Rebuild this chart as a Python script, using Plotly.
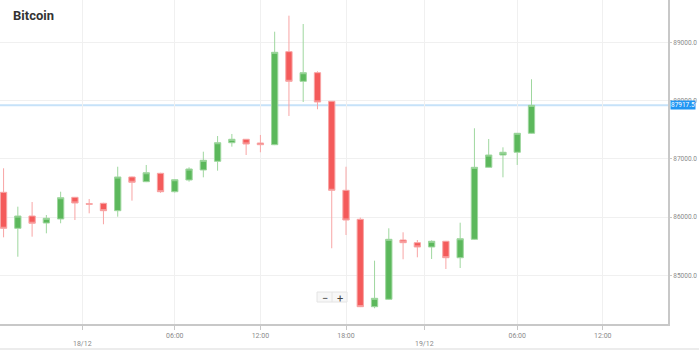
import pandas as pd
import plotly.graph_objects as go

# ---- data ----
start_time = "2025-12-17 18:00"
opens = [86425, 85807, 86018, 85898, 85967, 86339, 86230, 86236, 86109, 86688,
         86607, 86751, 86435, 86636, 86808, 86957, 87276, 87335, 87271, 87242,
         88839, 88330, 88478, 87987, 86459, 85961, 84461, 84588, 85606, 85560,
         85486, 85584, 85302, 85618, 86854, 87065, 87112, 87438]
highs = [86837, 86178, 86258, 86035, 86435, 86345, 86310, 86245, 86864, 86695,
         86894, 86760, 86650, 86854, 87122, 87391, 87426, 87340, 87409, 89182,
         89457, 89314, 88502, 87990, 86864, 85990, 85251, 85807, 85738, 85606,
         85600, 85590, 85903, 87524, 87340, 87197, 87440, 88365]
lows = [85652, 85319, 85663, 85721, 85893, 85949, 86064, 85876, 86006, 86281,
        86600, 86415, 86420, 86607, 86682, 86796, 87208, 87065, 87112, 87235,
        87735, 87975, 87850, 85464, 85692, 84455, 84434, 84580, 85275, 85309,
        85280, 85108, 85125, 85610, 86850, 86682, 86894, 87430]
closes = [85807, 86018, 85893, 85979, 86332, 86241, 86220, 86109, 86688, 86597,
          86761, 86435, 86641, 86825, 86974, 87276, 87335, 87254, 87242, 88828,
          88330, 88478, 87975, 86459, 85949, 84461, 84605, 85618, 85560, 85486,
          85584, 85302, 85628, 86854, 87065, 87112, 87438, 87917.5]
times = pd.date_range(start_time, periods=len(opens), freq="h")

hour_tick_vals = ["2025-12-18 06:00", "2025-12-18 12:00", "2025-12-18 18:00",
                  "2025-12-19 06:00", "2025-12-19 12:00"]
hour_tick_text = ["06:00", "12:00", "18:00", "06:00", "12:00"]
date_tick_vals = ["2025-12-17 23:32", "2025-12-18 23:32"]
date_tick_text = ["18/12", "19/12"]
y_tick_vals = [85000, 86000, 87000, 88000, 89000]
y_tick_text = [f"{v:.1f}" for v in y_tick_vals]
x_range = ["2025-12-17 17:45", "2025-12-19 16:34"]
y_range = [84164, 89726]
title_text = "Bitcoin"

last_close = closes[-1]

GREEN = "#5cb85c"
RED = "#f45b5b"
TICK_FONT = dict(family="Roboto, sans-serif", size=7, color="#8a8a8a")
Y_TICK_FONT = dict(family="Roboto, sans-serif", size=6.5, color="#8a8a8a")

fig = go.Figure()
fig.add_trace(go.Candlestick(
    x=times, open=opens, high=highs, low=lows, close=closes,
    increasing=dict(line=dict(color="#9fd79f", width=1), fillcolor=GREEN),
    decreasing=dict(line=dict(color="#f8a5a5", width=1), fillcolor=RED),
    showlegend=False, hoverinfo="skip",
))

annotations = [
    dict(text=f"<b>{title_text}</b>", xref="paper", yref="paper",
         x=0, y=1, xanchor="left", yanchor="middle", xshift=11, yshift=-15,
         showarrow=False, font=dict(family="Roboto, sans-serif", size=13, color="#333333")),
    dict(text=f"{last_close:.1f}", xref="paper", yref="y", x=1, y=last_close,
         xanchor="left", yanchor="middle", xshift=2, showarrow=False,
         bgcolor="#2196f3", borderpad=0,
         font=dict(family="Roboto, sans-serif", size=6.5, color="white")),
    dict(text="−", xref="paper", yref="paper", x=324.5 / 668, y=1 - 297 / 324,
         yanchor="middle", yshift=-1, showarrow=False,
         font=dict(family="Roboto, sans-serif", size=11, color="#444444")),
    dict(text="+", xref="paper", yref="paper", x=339.5 / 668, y=1 - 297 / 324,
         yanchor="middle", yshift=-1, showarrow=False,
         font=dict(family="Roboto, sans-serif", size=11, color="#444444")),
]
for v, t in zip(date_tick_vals, date_tick_text):
    annotations.append(dict(text=t, xref="x", yref="paper", x=v, y=-20 / 324,
                            yanchor="middle", showarrow=False, font=TICK_FONT))

fig.update_layout(
    width=699, height=351,
    margin=dict(l=0, r=31, t=0, b=27),
    paper_bgcolor="white", plot_bgcolor="white",
    boxgap=0.37,
    xaxis=dict(
        type="date", range=x_range, rangeslider=dict(visible=False),
        tickmode="array",
        tickvals=hour_tick_vals + date_tick_vals,
        ticktext=hour_tick_text + ["" for _ in date_tick_text],
        tickfont=TICK_FONT, ticks="outside", ticklen=4, tickcolor="#c8c8c8",
        showgrid=True, gridcolor="#f0f0f0", gridwidth=1,
        showline=True, linecolor="#c8c8c8", linewidth=2,
        zeroline=False, fixedrange=True,
    ),
    yaxis=dict(
        side="right", range=y_range,
        tickmode="array", tickvals=y_tick_vals, ticktext=y_tick_text,
        tickfont=Y_TICK_FONT, ticks="outside", ticklen=2, tickcolor="#c8c8c8",
        showgrid=True, gridcolor="#f0f0f0", gridwidth=1,
        showline=True, linecolor="#c8c8c8", linewidth=2,
        zeroline=False, fixedrange=True,
    ),
    shapes=[
        dict(type="line", xref="paper", x0=0, x1=1, yref="y",
             y0=last_close, y1=last_close,
             line=dict(color="#c6e2f9", width=2), layer="below"),
        dict(type="line", xref="paper", x0=0, x1=699 / 668, yref="paper",
             y0=-25 / 324, y1=-25 / 324, line=dict(color="#ececec", width=2)),
        dict(type="rect", xref="paper", yref="paper",
             x0=317 / 668, x1=347 / 668, y0=1 - 302 / 324, y1=1 - 292 / 324,
             line=dict(color="#e4e4e4", width=1), fillcolor="#f7f7f7"),
        dict(type="line", xref="paper", yref="paper",
             x0=332 / 668, x1=332 / 668, y0=1 - 302 / 324, y1=1 - 292 / 324,
             line=dict(color="#e4e4e4", width=1)),
    ],
    annotations=annotations,
)

fig.write_html("out.html")
